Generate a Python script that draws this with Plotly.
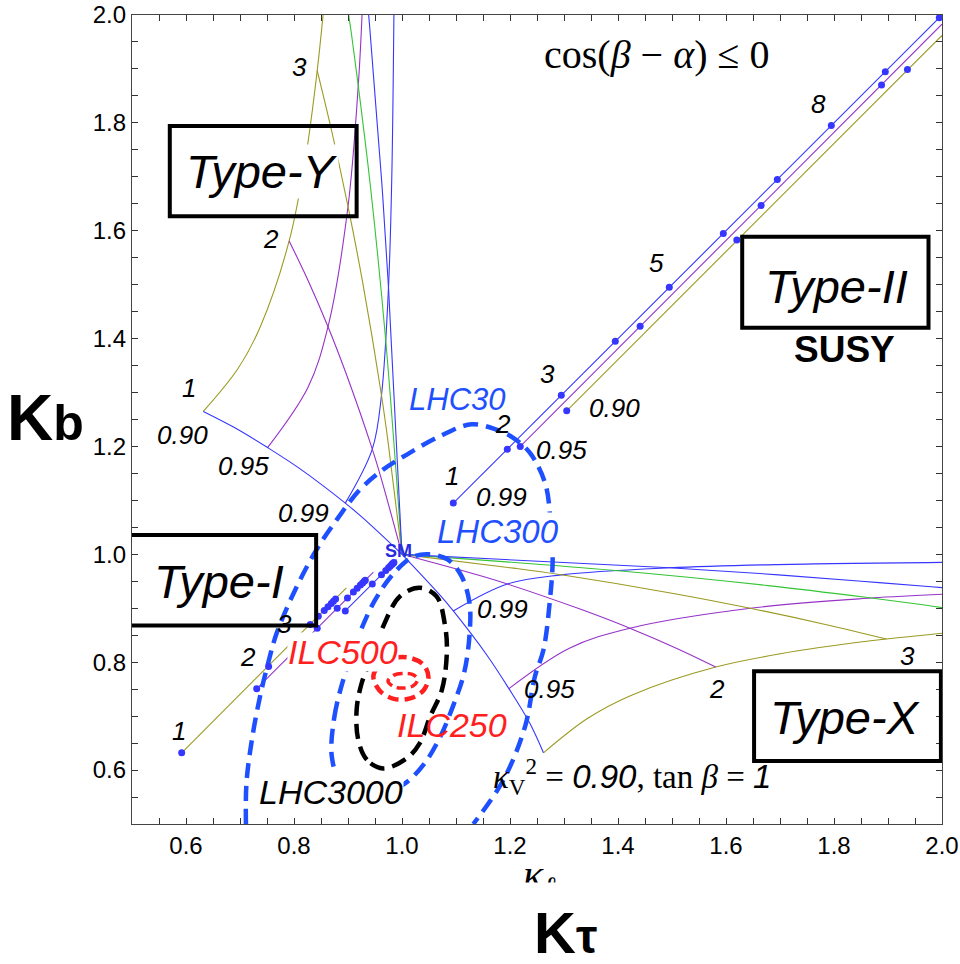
import plotly.graph_objects as go

BLUE = "#3636ff"
PURPLE = "#9632c8"
OLIVE = "#9a9a22"
GREEN = "#34c434"
DBLUE = "#1f50ff"
RED = "#ff1f1f"
BLACK = "#000000"

# ---------------- Type-X predictions (kappa_tau, kappa_b) ----------------
tx_v90_tau = [1.262, 1.344, 1.423, 1.581, 1.739, 1.897, 2.002]
tx_v90_b = [0.632, 0.696, 0.738, 0.791, 0.822, 0.843, 0.854]
tx_v95_tau = [1.198, 1.310, 1.422, 1.645, 1.869, 2.000]
tx_v95_b = [0.751, 0.826, 0.863, 0.900, 0.919, 0.926]
tx_v99_tau = [1.095, 1.195, 1.295, 1.495, 1.695, 2.000]
tx_v99_b = [0.895, 0.945, 0.962, 0.975, 0.981, 0.985]
tx_tb1_tau = [1.000, 1.068, 1.095, 1.158, 1.198, 1.236, 1.262]
tx_tb1_b = [1.000, 0.927, 0.895, 0.812, 0.751, 0.688, 0.632]
tx_tb2_tau = [1.000, 1.139, 1.195, 1.331, 1.422, 1.510, 1.581]
tx_tb2_b = [1.000, 0.962, 0.945, 0.898, 0.863, 0.825, 0.791]
tx_tb3_tau = [1.000, 1.210, 1.295, 1.505, 1.645, 1.784, 1.897]
tx_tb3_b = [1.000, 0.974, 0.962, 0.927, 0.900, 0.870, 0.843]
tx_tb4_tau = [1.000, 1.395, 1.678, 1.869, 1.968, 2.020]
tx_tb4_b = [1.000, 0.970, 0.942, 0.919, 0.906, 0.898]
tx_tb5_tau = [1.000, 1.495, 1.697, 1.851, 1.980, 2.038]
tx_tb5_b = [1.000, 0.975, 0.962, 0.950, 0.940, 0.935]

# ---------------- Type-Y predictions ----------------
ty_v90_tau = [0.632, 0.696, 0.738, 0.791, 0.822, 0.843, 0.854]
ty_v90_b = [1.265, 1.344, 1.423, 1.581, 1.739, 1.897, 2.002]
ty_v95_tau = [0.751, 0.826, 0.863, 0.900, 0.919, 0.926]
ty_v95_b = [1.198, 1.310, 1.422, 1.645, 1.869, 2.000]
ty_v99_tau = [0.895, 0.945, 0.962, 0.975, 0.981, 0.985]
ty_v99_b = [1.095, 1.195, 1.295, 1.495, 1.695, 2.000]
ty_tb1_tau = [1.000, 0.927, 0.895, 0.812, 0.751, 0.688, 0.632]
ty_tb1_b = [1.000, 1.068, 1.095, 1.158, 1.198, 1.236, 1.265]
ty_tb2_tau = [1.000, 0.962, 0.945, 0.898, 0.863, 0.825, 0.791]
ty_tb2_b = [1.000, 1.139, 1.195, 1.331, 1.422, 1.510, 1.581]
ty_tb3_tau = [1.000, 0.974, 0.962, 0.927, 0.900, 0.870, 0.843]
ty_tb3_b = [1.000, 1.210, 1.295, 1.505, 1.645, 1.784, 1.897]
ty_tb4_tau = [1.000, 0.970, 0.942, 0.919, 0.906, 0.898]
ty_tb4_b = [1.000, 1.395, 1.678, 1.869, 1.968, 2.020]
ty_tb5_tau = [1.000, 0.975, 0.962, 0.950, 0.940, 0.935]
ty_tb5_b = [1.000, 1.495, 1.697, 1.851, 1.980, 2.038]

# ---------------- Type-II predictions ----------------
t2_v99_line_tau = [1.095, 2.000]
t2_v99_line_b = [1.095, 2.000]
t2_v95_line_tau = [1.219, 2.000]
t2_v95_line_b = [1.200, 1.983]
t2_v90_line_tau = [1.305, 2.000]
t2_v90_line_b = [1.266, 1.962]
t2_v99_dot_tau = [1.095, 1.195, 1.295, 1.395, 1.495, 1.595, 1.695, 1.795, 1.895, 1.995]
t2_v99_dot_b = [1.095, 1.195, 1.295, 1.395, 1.495, 1.595, 1.695, 1.795, 1.895, 1.995]
t2_v95_dot_tau = [1.219, 1.441, 1.665, 1.888]
t2_v95_dot_b = [1.200, 1.423, 1.647, 1.870]
t2_v90_dot_tau = [1.305, 1.620, 1.936]
t2_v90_dot_b = [1.266, 1.583, 1.899]

# ---------------- Type-I predictions ----------------
t1_v90_line_tau = [0.592, 0.897]
t1_v90_line_b = [0.632, 0.938]
t1_v95_line_tau = [0.731, 0.947]
t1_v95_line_b = [0.751, 0.967]
t1_v99_line_tau = [0.895, 0.990]
t1_v99_line_b = [0.895, 0.990]
t1_v90_dot_tau = [0.592, 0.753, 0.803, 0.830, 0.845, 0.856, 0.863, 0.869, 0.873, 0.877]
t1_v90_dot_b = [0.632, 0.792, 0.843, 0.870, 0.885, 0.896, 0.903, 0.909, 0.913, 0.917]
t1_v95_dot_tau = [0.731, 0.843, 0.880, 0.899, 0.910, 0.917, 0.923, 0.927, 0.930, 0.932]
t1_v95_dot_b = [0.751, 0.863, 0.900, 0.919, 0.930, 0.937, 0.943, 0.947, 0.950, 0.952]
t1_v99_dot_tau = [0.895, 0.945, 0.962, 0.970, 0.975, 0.978, 0.981, 0.982, 0.984, 0.985]
t1_v99_dot_b = [0.895, 0.945, 0.962, 0.970, 0.975, 0.978, 0.981, 0.982, 0.984, 0.985]

# ---------------- Measurement contours ----------------
lhc30_tau = [0.711, 0.712, 0.722, 0.737, 0.752, 0.768, 0.805, 0.842, 0.879, 0.922, 0.965,
             1.009, 1.070, 1.129, 1.175, 1.206, 1.237, 1.265, 1.275, 1.279, 1.274, 1.262,
             1.246, 1.228, 1.188, 1.132]
lhc30_b = [0.500, 0.576, 0.656, 0.736, 0.798, 0.854, 0.940, 1.009, 1.064, 1.120, 1.157,
           1.185, 1.219, 1.241, 1.231, 1.216, 1.188, 1.132, 1.064, 0.990, 0.916, 0.823,
           0.773, 0.681, 0.582, 0.500]

lhc300_tau = [0.870, 0.875, 0.895, 0.920, 0.950, 0.985, 1.020, 1.050, 1.085, 1.110, 1.125,
              1.125, 1.115, 1.095, 1.070, 1.040, 1.005, 0.960, 0.915, 0.885, 0.870]
lhc300_b = [0.625, 0.700, 0.780, 0.850, 0.915, 0.965, 0.995, 1.000, 0.990, 0.960, 0.910,
            0.850, 0.780, 0.720, 0.660, 0.610, 0.575, 0.555, 0.560, 0.580, 0.625]

lhc3000_tau = [0.965, 0.935, 0.919, 0.916, 0.925, 0.940, 0.965, 0.996, 1.033, 1.064, 1.080,
               1.083, 1.074, 1.052, 1.033, 1.009, 0.965]
lhc3000_b = [0.603, 0.619, 0.656, 0.712, 0.760, 0.800, 0.866, 0.922, 0.938, 0.922, 0.866,
             0.817, 0.749, 0.699, 0.650, 0.622, 0.603]

ilc250_tau = [0.947, 0.960, 0.985, 1.015, 1.040, 1.049, 1.040, 1.015, 0.985, 0.958, 0.947]
ilc250_b = [0.775, 0.795, 0.808, 0.808, 0.795, 0.772, 0.748, 0.733, 0.732, 0.748, 0.775]
ilc500_tau = [0.974, 0.985, 1.000, 1.020, 1.029, 1.020, 1.000, 0.984, 0.974]
ilc500_b = [0.765, 0.776, 0.779, 0.777, 0.768, 0.756, 0.752, 0.755, 0.765]

fig = go.Figure()


def line(x, y, color, width=1.1, dash=None, shape="spline"):
    fig.add_trace(go.Scatter(x=x, y=y, mode="lines",
                             line=dict(color=color, width=width, dash=dash, shape=shape),
                             hoverinfo="skip", showlegend=False))


def dots(x, y, color=BLUE, size=7):
    fig.add_trace(go.Scatter(x=x, y=y, mode="markers",
                             marker=dict(color=color, size=size, line=dict(width=0)),
                             hoverinfo="skip", showlegend=False))


# thin prediction lines
line(tx_v90_tau, tx_v90_b, OLIVE)
line(tx_v95_tau, tx_v95_b, PURPLE)
line(tx_v99_tau, tx_v99_b, BLUE)
line(tx_tb1_tau, tx_tb1_b, BLUE)
line(tx_tb2_tau, tx_tb2_b, PURPLE)
line(tx_tb3_tau, tx_tb3_b, OLIVE)
line(tx_tb4_tau, tx_tb4_b, GREEN)
line(tx_tb5_tau, tx_tb5_b, BLUE)

line(ty_v90_tau, ty_v90_b, OLIVE)
line(ty_v95_tau, ty_v95_b, PURPLE)
line(ty_v99_tau, ty_v99_b, BLUE)
line(ty_tb1_tau, ty_tb1_b, BLUE)
line(ty_tb2_tau, ty_tb2_b, PURPLE)
line(ty_tb3_tau, ty_tb3_b, OLIVE)
line(ty_tb4_tau, ty_tb4_b, GREEN)
line(ty_tb5_tau, ty_tb5_b, BLUE)

line(t2_v99_line_tau, t2_v99_line_b, BLUE, shape="linear")
line(t2_v95_line_tau, t2_v95_line_b, PURPLE, shape="linear")
line(t2_v90_line_tau, t2_v90_line_b, OLIVE, shape="linear")
line(t1_v90_line_tau, t1_v90_line_b, OLIVE, shape="linear")
line(t1_v95_line_tau, t1_v95_line_b, PURPLE, shape="linear")
line(t1_v99_line_tau, t1_v99_line_b, BLUE, shape="linear")

# contours
line(lhc30_tau, lhc30_b, DBLUE, width=4.5, dash="15px,8px")
line(lhc300_tau, lhc300_b, DBLUE, width=4.5, dash="15px,8px")
line(lhc3000_tau, lhc3000_b, BLACK, width=4.5, dash="15px,8px")
line(ilc250_tau, ilc250_b, RED, width=4.5, dash="11px,6px")
line(ilc500_tau, ilc500_b, RED, width=3.5, dash="9px,5px")

# dots
dots(t2_v99_dot_tau, t2_v99_dot_b)
dots(t2_v95_dot_tau, t2_v95_dot_b)
dots(t2_v90_dot_tau, t2_v90_dot_b)
dots(t1_v90_dot_tau, t1_v90_dot_b)
dots(t1_v95_dot_tau, t1_v95_dot_b)
dots(t1_v99_dot_tau, t1_v99_dot_b)

SANS = "Liberation Sans"
SERIF = "Liberation Serif"

ann = []


def label(text, x, y, size=25, color="black", family=SANS, bg=None, xanchor="center", ref="data"):
    d = dict(text=text, x=x, y=y, showarrow=False, xanchor=xanchor, yanchor="middle",
             font=dict(family=family, size=size, color=color))
    if ref == "paper":
        d.update(xref="paper", yref="paper")
    else:
        d.update(xref="x", yref="y")
    if bg:
        d.update(bgcolor=bg, borderpad=0)
    ann.append(d)


# number labels
for t, x, y in [("3", 0.811, 1.903), ("2", 0.757, 1.584), ("1", 0.606, 1.309),
                ("0.90", 0.593, 1.222), ("0.95", 0.706, 1.163), ("0.99", 0.817, 1.077),
                ("1", 1.093, 1.146), ("0.99", 1.185, 1.107), ("2", 1.187, 1.241),
                ("0.95", 1.296, 1.194), ("3", 1.270, 1.335), ("0.90", 1.393, 1.272),
                ("5", 1.472, 1.541), ("8", 1.772, 1.835),
                ("3", 0.783, 0.871), ("2", 0.715, 0.810), ("1", 0.587, 0.673),
                ("0.99", 1.187, 0.899), ("0.95", 1.274, 0.751), ("2", 1.583, 0.751),
                ("3", 1.937, 0.812)]:
    label("<i>" + t + "</i>", x, y, size=26)

label("<b>SM</b>", 0.993, 1.006, size=18, color="#2a2ae0")
label("<i>LHC30</i>", 1.102, 1.287, size=31, color=DBLUE)
label("<i>LHC300</i>", 1.178, 1.042, size=33, color=DBLUE, bg="white")
label("<i>LHC3000</i>", 0.869, 0.559, size=34, color=BLACK, bg="white")
label("<i>ILC500</i>", 0.891, 0.819, size=34, color=RED, bg="white")
label("<i>ILC250</i>", 1.093, 0.684, size=34, color=RED)
label("cos(<i>β</i> − <i>α</i>) ≤ 0", 1.472, 1.927, size=40, family=SERIF)
label("<b>SUSY</b>", 1.820, 1.380, size=37)
label("<i>κ</i><sub>V</sub><sup>2</sup> = <span style='font-family:Liberation Sans'><i>0.90</i></span>,"
      " tan <i>β</i> = <span style='font-family:Liberation Sans'><i>1</i></span>", 1.687, 0.589,
      size=33, family=SERIF, xanchor="right")

# type labels
label("<i>Type-Y</i>", 0.741, 1.710, size=47, bg="white")
label("<i>Type-II</i>", 1.804, 1.497, size=47)
label("<i>Type-I</i>", 0.661, 0.949, size=47)
label("<i>Type-X</i>", 1.820, 0.697, size=47)

# axis titles
label("<b>K<span style='font-size:50px'>b</span></b>", -0.107, 0.502, size=64, ref="paper")
label("<b>K<span style='font-size:48px'>τ</span></b>", 0.535, -0.134, size=58, ref="paper")
label("<i>κ<sub>ℓ</sub></i>", 0.503, -0.066, size=42, family=SERIF, ref="paper")
ann.append(dict(text=" ", x=0.503, y=-0.0905, xref="paper", yref="paper", showarrow=False,
                width=90, height=26, bgcolor="white", xanchor="center", yanchor="middle"))

shapes = []
for x0, x1, y0, y1 in [(0.570, 0.916, 1.627, 1.794), (1.630, 1.975, 1.420, 1.589),
                       (0.4963, 0.841, 0.868, 1.036), (1.652, 1.998, 0.617, 0.783)]:
    shapes.append(dict(type="rect", xref="x", yref="y", x0=x0, x1=x1, y0=y0, y1=y1,
                       line=dict(color="black", width=4), layer="above"))

fig.update_layout(width=960, height=964,
                  margin=dict(l=132, r=18, t=15, b=140, autoexpand=False),
                  plot_bgcolor="white", paper_bgcolor="white", showlegend=False,
                  annotations=ann, shapes=shapes)

axis_common = dict(tick0=0, dtick=0.2, tickformat=".1f", ticks="inside", ticklen=6, tickwidth=1,
                   tickcolor="#333", showline=True, linecolor="#444", linewidth=1.2,
                   mirror="ticks", showgrid=False, zeroline=False,
                   minor=dict(tick0=0, dtick=0.05, ticks="inside", ticklen=6, tickcolor="#333",
                              showgrid=False),
                   tickfont=dict(family=SANS, size=24, color="black"))
fig.update_xaxes(range=[0.5, 2.0], **axis_common)
fig.update_yaxes(range=[0.5, 2.0], **axis_common)

fig.write_html("out.html", config={"displayModeBar": False})

# remove the default page margin so the figure sits at the window's top-left corner
with open("out.html", encoding="utf-8") as f:
    html = f.read()
html = html.replace("<head>", "<head><style>html,body{margin:0;padding:0;overflow:hidden;}</style>", 1)
with open("out.html", "w", encoding="utf-8") as f:
    f.write(html)
